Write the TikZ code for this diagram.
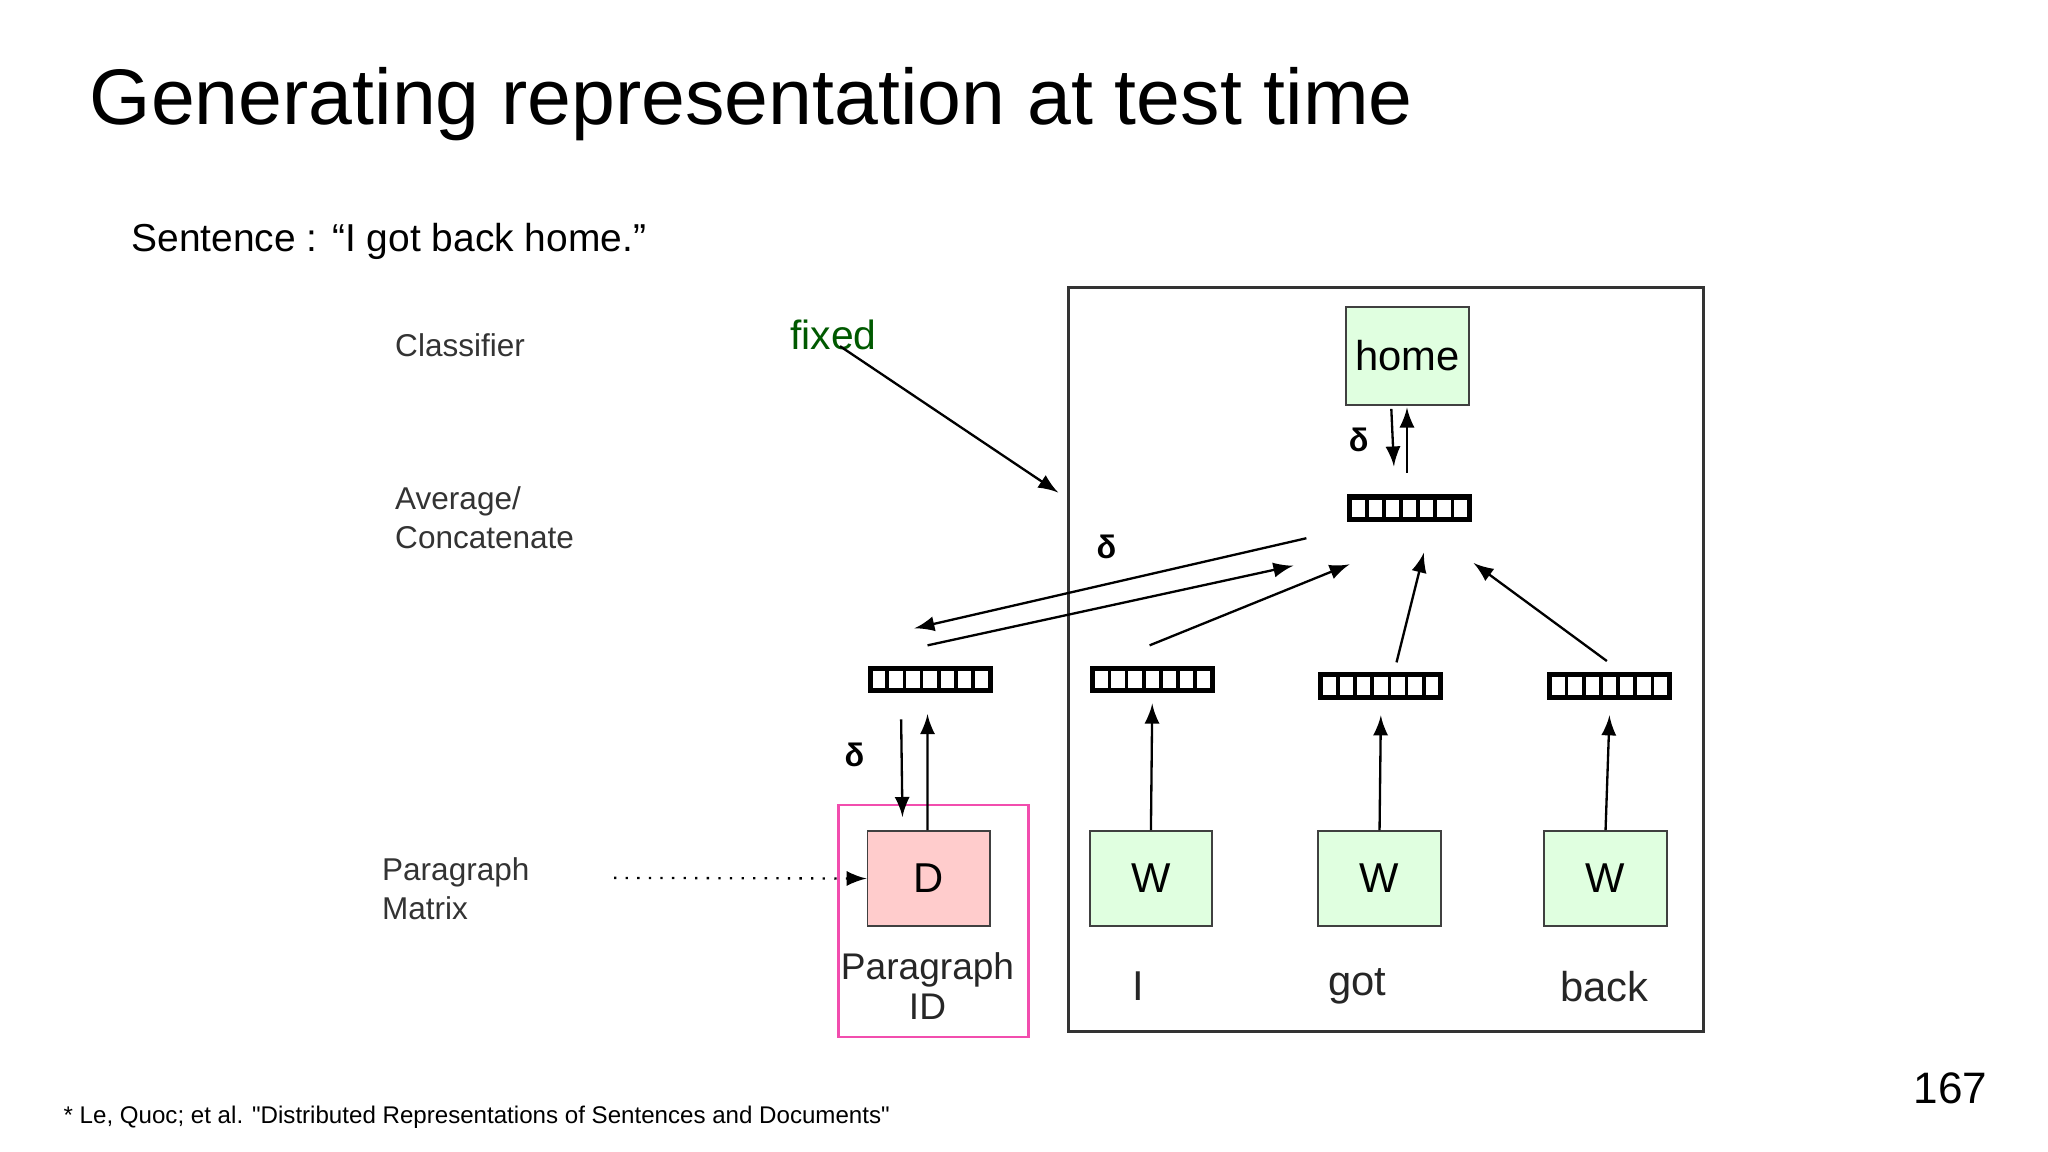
\documentclass[tikz,border=0pt]{standalone}
\usepackage{fontspec}
\setmainfont{Liberation Sans}
\begin{document}
\begin{tikzpicture}[x=0.0099cm,y=-0.0099cm,
  vec/.style={draw,line width=1.1pt,minimum width=0.91cm,minimum height=0.17cm,inner sep=0pt,
    path picture={\foreach \i in {1,...,6}{\draw[line width=0.8pt] ([xshift=\i*0.13cm]path picture bounding box.south west) -- ([xshift=\i*0.13cm]path picture bounding box.north west);}}},
  wbox/.style={draw=black!75,fill=green!12!white,minimum width=0.93cm,minimum height=0.72cm,inner sep=0pt,font=\fontsize{9pt}{11pt}\selectfont},
  lab/.style={text=black!80,font=\fontsize{6.8pt}{8.4pt}\selectfont,align=left,anchor=west},
  wl/.style={text=black!85,font=\fontsize{8pt}{8.6pt}\selectfont},
  arr/.style={-latex,line width=0.5pt},
  dl/.style={font=\fontsize{7pt}{8pt}\selectfont\bfseries}]
\useasboundingbox (0,0) rectangle (1567.7,881.8);
\node[anchor=base west,inner sep=0pt,font=\fontsize{17pt}{20pt}\selectfont] (title) at (68,95) {Generating representation at test time};
\node[anchor=west,inner sep=0pt,font=\fontsize{8.4pt}{10pt}\selectfont] (sent) at (100,185) {Sentence : “I got back home.”};
\node[lab] (cls) at (290,264) {Classifier};
\node[lab] (avg) at (290,396) {Average/\\Concatenate};
\node[lab] (pm) at (280,680) {Paragraph\\Matrix};
\node[text=green!35!black,font=\fontsize{8.8pt}{11pt}\selectfont] (fixed) at (638,256) {fixed};
\node[draw=black!80,line width=0.6pt,minimum width=4.81cm,minimum height=5.64cm,inner sep=0pt] (big) at (1061,505) {};
\node[draw=magenta!70,line width=0.6pt,minimum width=1.44cm,minimum height=1.76cm,inner sep=0pt] (pbox) at (714.5,705) {};
\node[wbox,minimum height=0.74cm] (home) at (1077.5,272.5) {home};
\node[vec] (vt) at (1079,389) {};
\node[vec] (vd) at (712,520) {};
\node[vec] (vi) at (882,520) {};
\node[vec] (vg) at (1057,525) {};
\node[vec] (vb) at (1232,525) {};
\node[wbox,fill=red!20!white] (D) at (711,672.5) {D};
\node[wbox] (w1) at (881,672.5) {W};
\node[wbox] (w2) at (1056,672.5) {W};
\node[wbox] (w3) at (1229,672.5) {W};
\node[wl,align=center] (pid) at (710,755) {Paragraph\\ID};
\node[wl,font=\fontsize{9pt}{11pt}\selectfont] (lI) at (871,755) {I};
\node[wl,font=\fontsize{9pt}{11pt}\selectfont] (lgot) at (1039,755) {got};
\node[wl,font=\fontsize{9pt}{11pt}\selectfont] (lback) at (1228,755) {back};
\node[dl] (d1) at (1040,337) {δ};
\node[dl] (d2) at (847,419) {δ};
\node[dl] (d3) at (654,578) {δ};
\node[anchor=base west,inner sep=0pt,font=\fontsize{5.2pt}{6pt}\selectfont] (foot) at (48,860) {* Le, Quoc; et al. \textquotedbl Distributed Representations of Sentences and Documents\textquotedbl};
\node[font=\fontsize{9.5pt}{11pt}\selectfont] (pg) at (1493,833) {167};
% coordinates
\coordinate (a1) at (1065,313); \coordinate (a2) at (1067,357);
\coordinate (b1) at (1077,362); \coordinate (b2) at (1077,312);
\coordinate (c1) at (1000,412); \coordinate (c2) at (700,481);
\coordinate (e1) at (710,494); \coordinate (e2) at (990,433);
\coordinate (f1) at (880,494); \coordinate (f2) at (1033,432);
\coordinate (g1) at (1069,507); \coordinate (g2) at (1090,423);
\coordinate (h1) at (1230,506); \coordinate (h2) at (1128,431);
\coordinate (k1) at (643,265); \coordinate (k2) at (810,377);
\coordinate (m1) at (470,672);
\draw[arr] (a1) -- (a2);
\draw[arr] (b1) -- (b2);
\draw[arr] (c1) -- (c2);
\draw[arr] (e1) -- (e2);
\draw[arr] (f1) -- (f2);
\draw[arr] (g1) -- (g2);
\draw[arr] (h1) -- (h2);
\draw[arr] (k1) -- (k2);
\draw[arr,dotted] (m1) -- (D.west);
\draw[arr] (w1.north) -- ([yshift=-0.08cm]vi.south);
\draw[arr] (w2.north) -- ([yshift=-0.12cm]vg.south);
\draw[arr] (w3.north) -- ([yshift=-0.12cm]vb.south);
\draw[arr] ([xshift=-0.22cm,yshift=-0.2cm]vd.south) -- ([xshift=-0.2cm,yshift=0.1cm]D.north);
\draw[arr] ([xshift=-0.01cm]D.north) -- ([xshift=-0.02cm,yshift=-0.16cm]vd.south);
\end{tikzpicture}
\end{document}
